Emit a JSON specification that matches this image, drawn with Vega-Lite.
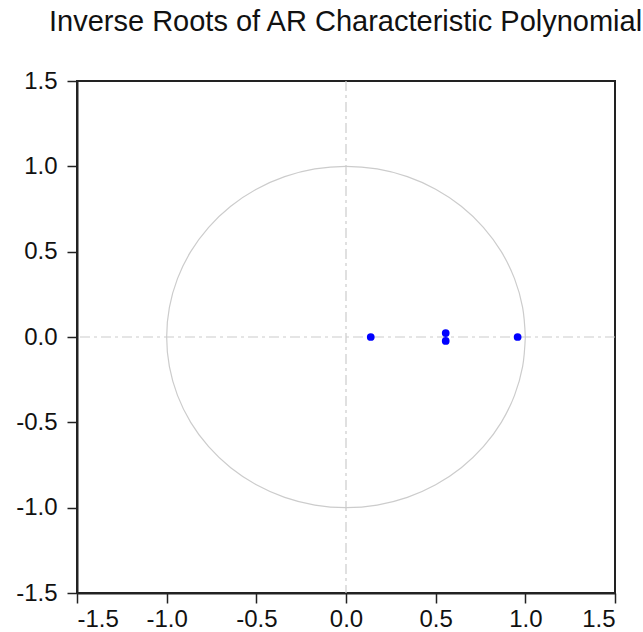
{
  "$schema": "https://vega.github.io/schema/vega-lite/v6.json",
  "width": 538,
  "height": 512,
  "autosize": {"type": "none"},
  "padding": {"left": 77, "top": 81, "right": 28, "bottom": 39},
  "background": "white",
  "title": {
    "text": "Inverse Roots of AR Characteristic Polynomial",
    "anchor": "start",
    "frame": "group",
    "dx": -28,
    "offset": 9,
    "baseline": "alphabetic",
    "font": "Liberation Sans",
    "fontSize": 29,
    "fontWeight": "normal",
    "color": "#111111"
  },
  "config": {
    "view": {"stroke": "#222222", "strokeWidth": 2},
    "axis": {
      "labelFont": "Liberation Sans",
      "labelFontSize": 24,
      "labelColor": "#111111",
      "domainColor": "#222222",
      "domainWidth": 2,
      "tickColor": "#222222",
      "tickWidth": 1.5,
      "tickSize": 10,
      "grid": false,
      "title": null
    }
  },
  "datasets": {
    "circle": [
      {"a": 0, "re": 1, "im": 0},
      {"a": 10, "re": 0.9848, "im": 0.1736},
      {"a": 20, "re": 0.9397, "im": 0.342},
      {"a": 30, "re": 0.866, "im": 0.5},
      {"a": 40, "re": 0.766, "im": 0.6428},
      {"a": 50, "re": 0.6428, "im": 0.766},
      {"a": 60, "re": 0.5, "im": 0.866},
      {"a": 70, "re": 0.342, "im": 0.9397},
      {"a": 80, "re": 0.1736, "im": 0.9848},
      {"a": 90, "re": 0, "im": 1},
      {"a": 100, "re": -0.1736, "im": 0.9848},
      {"a": 110, "re": -0.342, "im": 0.9397},
      {"a": 120, "re": -0.5, "im": 0.866},
      {"a": 130, "re": -0.6428, "im": 0.766},
      {"a": 140, "re": -0.766, "im": 0.6428},
      {"a": 150, "re": -0.866, "im": 0.5},
      {"a": 160, "re": -0.9397, "im": 0.342},
      {"a": 170, "re": -0.9848, "im": 0.1736},
      {"a": 180, "re": -1, "im": 0},
      {"a": 190, "re": -0.9848, "im": -0.1736},
      {"a": 200, "re": -0.9397, "im": -0.342},
      {"a": 210, "re": -0.866, "im": -0.5},
      {"a": 220, "re": -0.766, "im": -0.6428},
      {"a": 230, "re": -0.6428, "im": -0.766},
      {"a": 240, "re": -0.5, "im": -0.866},
      {"a": 250, "re": -0.342, "im": -0.9397},
      {"a": 260, "re": -0.1736, "im": -0.9848},
      {"a": 270, "re": 0, "im": -1},
      {"a": 280, "re": 0.1736, "im": -0.9848},
      {"a": 290, "re": 0.342, "im": -0.9397},
      {"a": 300, "re": 0.5, "im": -0.866},
      {"a": 310, "re": 0.6428, "im": -0.766},
      {"a": 320, "re": 0.766, "im": -0.6428},
      {"a": 330, "re": 0.866, "im": -0.5},
      {"a": 340, "re": 0.9397, "im": -0.342},
      {"a": 350, "re": 0.9848, "im": -0.1736},
      {"a": 360, "re": 1, "im": 0}
    ],
    "roots": [
      {"re": 0.138, "im": 0},
      {"re": 0.556, "im": 0.023},
      {"re": 0.556, "im": -0.023},
      {"re": 0.957, "im": 0}
    ]
  },
  "layer": [
    {
      "data": {"name": "circle"},
      "mark": {"type": "line", "stroke": "#cccccc", "strokeWidth": 1.2, "interpolate": "catmull-rom"},
      "encoding": {
        "x": {
          "field": "re", "type": "quantitative",
          "scale": {"domain": [-1.5, 1.5], "nice": false, "zero": false},
          "axis": {"values": [-1.5, -1, -0.5, 0, 0.5, 1, 1.5], "labelExpr": "datum.value < 0 ? '-' + format(-datum.value, '.1f') : format(datum.value, '.1f')", "labelPadding": 4}
        },
        "y": {
          "field": "im", "type": "quantitative",
          "scale": {"domain": [-1.5, 1.5], "nice": false, "zero": false},
          "axis": {"values": [-1.5, -1, -0.5, 0, 0.5, 1, 1.5], "labelExpr": "datum.value < 0 ? '-' + format(-datum.value, '.1f') : format(datum.value, '.1f')", "labelPadding": 10}
        },
        "order": {"field": "a", "type": "quantitative"}
      }
    },
    {
      "data": {"values": [{"v": 0}]},
      "mark": {"type": "rule", "stroke": "#cccccc", "strokeWidth": 1.2, "strokeDash": [10, 4, 3, 4]},
      "encoding": {"x": {"field": "v", "type": "quantitative"}}
    },
    {
      "data": {"values": [{"v": 0}]},
      "mark": {"type": "rule", "stroke": "#cccccc", "strokeWidth": 1.2, "strokeDash": [10, 4, 3, 4]},
      "encoding": {"y": {"field": "v", "type": "quantitative"}}
    },
    {
      "data": {"name": "roots"},
      "mark": {"type": "point", "shape": "circle", "filled": true, "color": "#0000ff", "size": 60, "opacity": 1},
      "encoding": {
        "x": {"field": "re", "type": "quantitative"},
        "y": {"field": "im", "type": "quantitative"}
      }
    }
  ]
}
